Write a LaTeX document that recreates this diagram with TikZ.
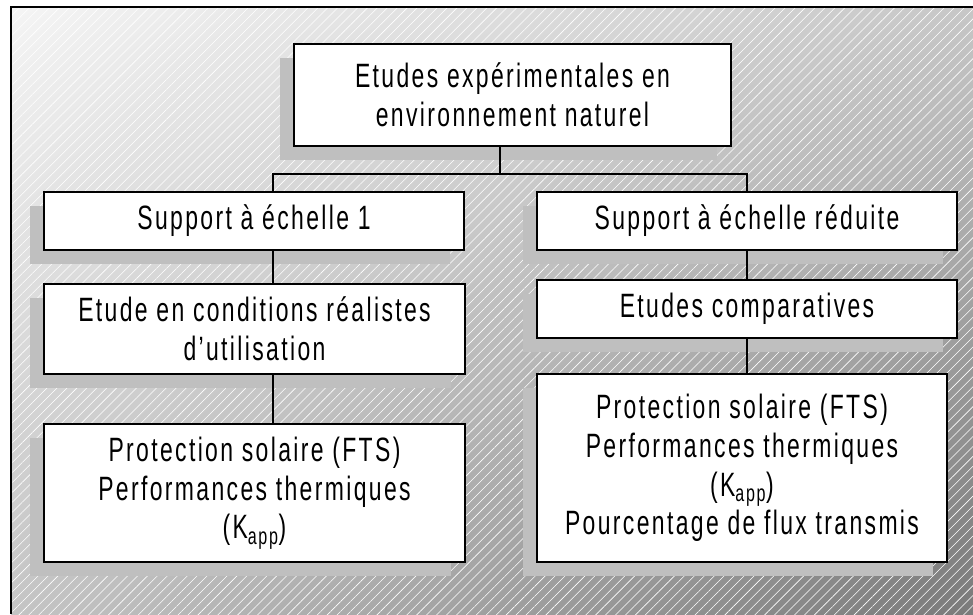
\documentclass[tikz,border=0pt]{standalone}
\usepackage{fontspec}
\setmainfont{Liberation Sans}[FakeStretch=0.68, LetterSpace=7]
\usetikzlibrary{shadows, shadings, patterns.meta, calc}

\begin{document}
\begin{tikzpicture}[
	x=0.025cm, y=-0.025cm,
	% Define styles
	box/.style={rectangle, draw=black, line width=1.3pt, fill=white, align=center, inner sep=2pt, font=\fontsize{24}{27.5}\selectfont, drop shadow={shadow xshift=-0.34cm, shadow yshift=-0.34cm, fill=black!25, opacity=1}},
	link/.style={draw=black, line width=1pt},
	frame/.style={draw=black, line width=1.3pt}
	]
	\useasboundingbox (0,0) rectangle (973,614);
	
	% Background with hatching
	\shade[upper left=white!96!black, upper right=white!78!black, lower left=white!77!black, lower right=black!52] (11,7) rectangle (973,614);
	\fill[pattern={Lines[angle=45, distance=5pt, line width=0.4pt]}, pattern color=white, fill opacity=0.18] (11,7) rectangle (973,614);
	\draw[frame] (11,614) -- (11,7) -- (973,7);
	
	% Main node
	\node[box, minimum width=10.925cm, minimum height=2.55cm] (etudes) at (512.5,95) {Etudes expérimentales en\\environnement naturel};
	
	% Left column
	\node[box, minimum width=10.5cm, minimum height=1.45cm] (echelle) at (254,221) {Support à échelle 1};
	\node[box, minimum width=10.525cm, minimum height=2.25cm] (realiste) at (254.5,329) {Etude en conditions réalistes\\d’utilisation};
	\node[box, minimum width=10.525cm, minimum height=3.45cm] (mesures) at (254.5,493) {Protection solaire (FTS)\\Performances thermiques\\(K\textsubscript{app})};
	
	% Right column
	\node[box, minimum width=10.5cm, minimum height=1.45cm] (reduite) at (747,221) {Support à échelle réduite};
	\node[box, minimum width=10.5cm, minimum height=1.45cm] (comparatif) at (747,309) {Etudes comparatives};
	\node[box, minimum width=10.25cm, minimum height=4.7cm] (mesuresred) at (742,468) {Protection solaire (FTS)\\Performances thermiques\\(K\textsubscript{app})\\Pourcentage de flux transmis};
	
	% Bus points
	\coordinate (busT) at (500,174);
	\coordinate (busL) at (273,174);
	\coordinate (busR) at (747,174);
	
	% Connections
	\draw[link] (etudes.south -| busT) -- (busT);
	\draw[link] (echelle.north -| busL) -- (busL) -- (busR) -- (reduite.north -| busR);
	\draw[link] (echelle.south -| busL) -- (realiste.north -| busL);
	\draw[link] (realiste.south -| busL) -- (mesures.north -| busL);
	\draw[link] (reduite.south -| busR) -- (comparatif.north -| busR);
	\draw[link] (comparatif.south -| busR) -- (mesuresred.north -| busR);
	
\end{tikzpicture}
\end{document}
